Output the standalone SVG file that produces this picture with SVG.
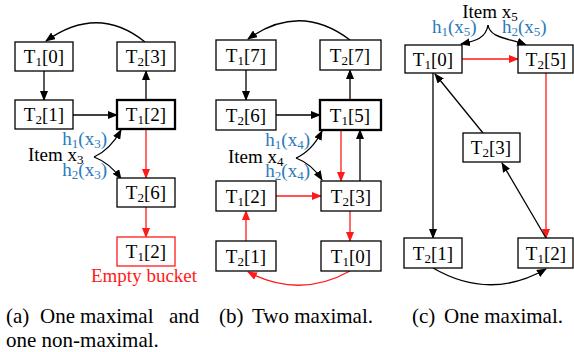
<svg xmlns="http://www.w3.org/2000/svg" width="574" height="352" viewBox="0 0 574 352" font-family="Liberation Serif, Times New Roman, serif" font-size="19">
<style>
.n rect{fill:#fff;stroke:#000;stroke-width:1.3}
.n rect.thick{stroke-width:2.3}
.n text{text-anchor:middle}
.blue{fill:#2b7bba}
.red{fill:#ff1a1a}
.c path{fill:none;stroke:#000;stroke-width:1.3}
.c path.r{stroke:#ff1a1a}
.cap{font-size:21px}
</style>
<defs>
<marker id="ab" markerUnits="userSpaceOnUse" markerWidth="10" markerHeight="8" refX="9" refY="4" orient="auto"><path d="M0,0 L10,4 L0,8 Z" fill="#000"/></marker>
<marker id="ar" markerUnits="userSpaceOnUse" markerWidth="10" markerHeight="8" refX="9" refY="4" orient="auto"><path d="M0,0 L10,4 L0,8 Z" fill="#ff1a1a"/></marker>
</defs>

<g class="c">
<path d="M145,42 Q98,4 46,41" marker-end="url(#ab)"/>
<path d="M44,71 L44,100" marker-end="url(#ab)"/>
<path d="M73,115 L117,115" marker-end="url(#ab)"/>
<path d="M146,100 L146,71" marker-end="url(#ab)"/>
<path class="r" d="M146,129 L146,178" marker-end="url(#ar)"/>
<path class="r" d="M146,207 L146,237" marker-end="url(#ar)"/>
<path d="M94,157 Q110,150 121,130" marker-end="url(#ab)"/>
<path d="M94,157 Q110,163 121,179" marker-end="url(#ab)"/>
<path d="M350,40 Q300,2 248,39" marker-end="url(#ab)"/>
<path d="M246,70 L246,100" marker-end="url(#ab)"/>
<path d="M276,115 L320,115" marker-end="url(#ab)"/>
<path d="M350,100 L350,70" marker-end="url(#ab)"/>
<path class="r" d="M341,130 L341,181" marker-end="url(#ar)"/>
<path d="M360,181 L360,130" marker-end="url(#ab)"/>
<path class="r" d="M276,196 L321,196" marker-end="url(#ar)"/>
<path class="r" d="M246,241 L246,211" marker-end="url(#ar)"/>
<path class="r" d="M350,211 L350,241" marker-end="url(#ar)"/>
<path class="r" d="M350,271 Q300,299 248,272" marker-end="url(#ar)"/>
<path d="M296,158 Q312,151 322,131" marker-end="url(#ab)"/>
<path d="M296,158 Q312,164 322,180" marker-end="url(#ab)"/>
<path d="M488,25 C486,38 476,41 461,44" marker-end="url(#ab)"/>
<path d="M488,25 C490,38 508,38 526,45" marker-end="url(#ab)"/>
<path class="r" d="M462,59 L518,59" marker-end="url(#ar)"/>
<path d="M433,73 L433,238" marker-end="url(#ab)"/>
<path d="M483,133 L435,74" marker-end="url(#ab)"/>
<path class="r" d="M546,73 L546,238" marker-end="url(#ar)"/>
<path d="M546,238 L502,163" marker-end="url(#ab)"/>
<path d="M433,268 Q490,301 546,269" marker-end="url(#ab)"/>
</g>

<g id="a-T1-0" class="n"><rect x="15" y="42" width="58" height="29"/><text x="44" y="63">T<tspan font-size="13" dy="3">1</tspan><tspan dy="-3">[0]</tspan></text></g>
<g id="a-T2-3" class="n"><rect x="117" y="42" width="58" height="29"/><text x="146" y="63">T<tspan font-size="13" dy="3">2</tspan><tspan dy="-3">[3]</tspan></text></g>
<g id="a-T2-1" class="n"><rect x="15" y="100" width="58" height="29"/><text x="44" y="121">T<tspan font-size="13" dy="3">2</tspan><tspan dy="-3">[1]</tspan></text></g>
<g id="a-T1-2" class="n"><rect class="thick" x="117" y="100" width="58" height="29"/><text x="146" y="121">T<tspan font-size="13" dy="3">1</tspan><tspan dy="-3">[2]</tspan></text></g>
<g id="a-T2-6" class="n"><rect x="117" y="178" width="58" height="29"/><text x="146" y="199">T<tspan font-size="13" dy="3">2</tspan><tspan dy="-3">[6]</tspan></text></g>
<g id="a-T1-2-empty" class="n"><rect x="117" y="237" width="58" height="29" style="stroke:#ff1a1a"/><text x="146" y="258">T<tspan font-size="13" dy="3">1</tspan><tspan dy="-3">[2]</tspan></text></g>
<g id="a-labels">
<text class="red" x="144" y="282" text-anchor="middle">Empty bucket</text>
<text x="28" y="161">Item x<tspan font-size="13" dy="3">3</tspan></text>
<text class="blue" x="107" y="145" text-anchor="end">h<tspan font-size="13" dy="3">1</tspan><tspan dy="-3">(x</tspan><tspan font-size="13" dy="3">3</tspan><tspan dy="-3">)</tspan></text>
<text class="blue" x="107" y="176" text-anchor="end">h<tspan font-size="13" dy="3">2</tspan><tspan dy="-3">(x</tspan><tspan font-size="13" dy="3">3</tspan><tspan dy="-3">)</tspan></text>
</g>

<g id="b-T1-7" class="n"><rect x="216" y="40" width="60" height="30"/><text x="246" y="62">T<tspan font-size="13" dy="3">1</tspan><tspan dy="-3">[7]</tspan></text></g>
<g id="b-T2-7" class="n"><rect x="320" y="40" width="61" height="30"/><text x="350" y="62">T<tspan font-size="13" dy="3">2</tspan><tspan dy="-3">[7]</tspan></text></g>
<g id="b-T2-6" class="n"><rect x="216" y="100" width="60" height="30"/><text x="246" y="122">T<tspan font-size="13" dy="3">2</tspan><tspan dy="-3">[6]</tspan></text></g>
<g id="b-T1-5" class="n"><rect class="thick" x="320" y="100" width="61" height="30"/><text x="350" y="122">T<tspan font-size="13" dy="3">1</tspan><tspan dy="-3">[5]</tspan></text></g>
<g id="b-T1-2" class="n"><rect x="216" y="181" width="60" height="30"/><text x="246" y="203">T<tspan font-size="13" dy="3">1</tspan><tspan dy="-3">[2]</tspan></text></g>
<g id="b-T2-3" class="n"><rect x="321" y="181" width="60" height="30"/><text x="351" y="203">T<tspan font-size="13" dy="3">2</tspan><tspan dy="-3">[3]</tspan></text></g>
<g id="b-T2-1" class="n"><rect x="216" y="241" width="60" height="30"/><text x="246" y="263">T<tspan font-size="13" dy="3">2</tspan><tspan dy="-3">[1]</tspan></text></g>
<g id="b-T1-0" class="n"><rect x="321" y="241" width="60" height="30"/><text x="351" y="263">T<tspan font-size="13" dy="3">1</tspan><tspan dy="-3">[0]</tspan></text></g>
<g id="b-labels">
<text x="228" y="163">Item x<tspan font-size="13" dy="3">4</tspan></text>
<text class="blue" x="310" y="146" text-anchor="end">h<tspan font-size="13" dy="3">1</tspan><tspan dy="-3">(x</tspan><tspan font-size="13" dy="3">4</tspan><tspan dy="-3">)</tspan></text>
<text class="blue" x="310" y="177" text-anchor="end">h<tspan font-size="13" dy="3">2</tspan><tspan dy="-3">(x</tspan><tspan font-size="13" dy="3">4</tspan><tspan dy="-3">)</tspan></text>
</g>

<g id="c-T1-0" class="n"><rect x="405" y="45" width="57" height="28"/><text x="433" y="66">T<tspan font-size="13" dy="3">1</tspan><tspan dy="-3">[0]</tspan></text></g>
<g id="c-T2-5" class="n"><rect x="518" y="45" width="55" height="28"/><text x="546" y="66">T<tspan font-size="13" dy="3">2</tspan><tspan dy="-3">[5]</tspan></text></g>
<g id="c-T2-3" class="n"><rect x="463" y="133" width="57" height="29"/><text x="491" y="154">T<tspan font-size="13" dy="3">2</tspan><tspan dy="-3">[3]</tspan></text></g>
<g id="c-T2-1" class="n"><rect x="404" y="238" width="58" height="30"/><text x="433" y="260">T<tspan font-size="13" dy="3">2</tspan><tspan dy="-3">[1]</tspan></text></g>
<g id="c-T1-2" class="n"><rect x="518" y="238" width="55" height="30"/><text x="546" y="260">T<tspan font-size="13" dy="3">1</tspan><tspan dy="-3">[2]</tspan></text></g>
<g id="c-labels">
<text x="490" y="18" text-anchor="middle">Item x<tspan font-size="13" dy="3">5</tspan></text>
<text class="blue" x="432" y="33">h<tspan font-size="13" dy="3">1</tspan><tspan dy="-3">(x</tspan><tspan font-size="13" dy="3">5</tspan><tspan dy="-3">)</tspan></text>
<text class="blue" x="502" y="33">h<tspan font-size="13" dy="3">2</tspan><tspan dy="-3">(x</tspan><tspan font-size="13" dy="3">5</tspan><tspan dy="-3">)</tspan></text>
</g>

<g id="captions">
<text class="cap" y="323"><tspan x="6">(a)</tspan><tspan x="40">One</tspan><tspan x="80">maximal</tspan><tspan x="169">and</tspan></text>
<text class="cap" x="6" y="347">one non-maximal.</text>
<text class="cap" y="323"><tspan x="219">(b)</tspan><tspan x="252">Two maximal.</tspan></text>
<text class="cap" y="323"><tspan x="412">(c)</tspan><tspan x="444">One maximal.</tspan></text>
</g>
</svg>
